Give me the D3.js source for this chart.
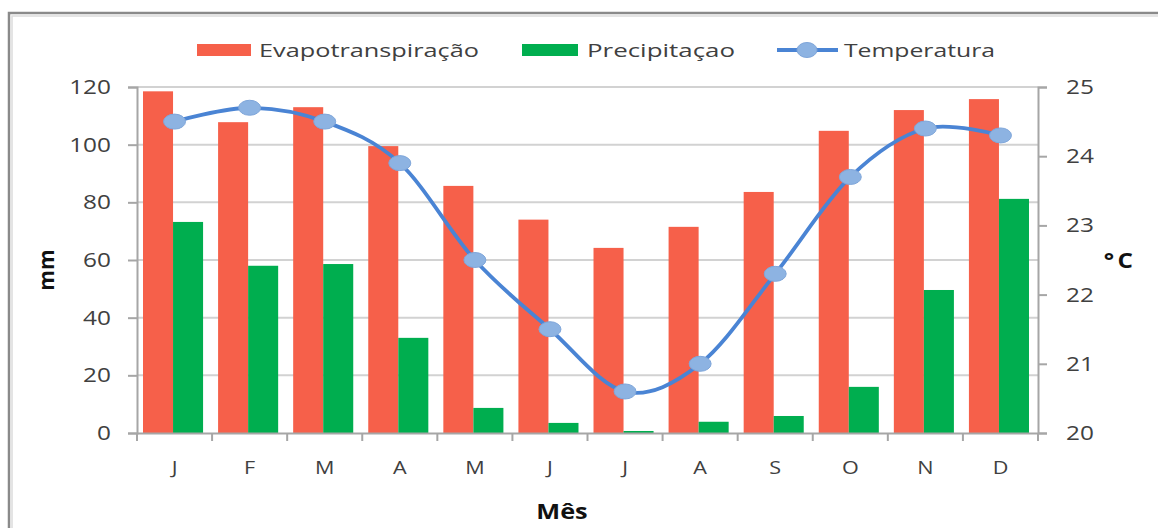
<!DOCTYPE html>
<html><head><meta charset="utf-8">
<script src="https://cdn.jsdelivr.net/npm/d3@7"></script>
<style>body{margin:0;background:#fff;}svg{display:block;}</style>
</head><body>
<svg id="chart" width="1167" height="528"></svg>
<script>
const months = ["J","F","M","A","M","J","J","A","S","O","N","D"];
const evapo = [118.5,107.8,113,99.5,85.7,74,64.2,71.5,83.6,104.8,112,115.8];
const precip = [73.2,58,58.6,33,8.7,3.5,0.7,3.9,5.9,16,49.6,81.2];
const temp = [24.5,24.7,24.5,23.9,22.5,21.5,20.6,21.0,22.3,23.7,24.4,24.3];
const mmTicks = [0,20,40,60,80,100,120];
const cTicks = [20,21,22,23,24,25];
const seriesNames = ["Evapotranspiração","Precipitaçao","Temperatura"];

const svg = d3.select("#chart");
const FONT = "'Open Sans', sans-serif";
const L = 137, R = 1038, T = 87, B = 433;
const red = "#F6604A", green = "#00AE4F", lineC = "#4A84D4", mark = "#8DB3E2";

// frame
svg.append("path").attr("d","M9,528 L9,13 L1158,13").attr("fill","none")
  .attr("stroke","#8a8a8a").attr("stroke-width",2.5);
svg.append("path").attr("d","M12,528 L12,16 L1158,16").attr("fill","none")
  .attr("stroke","#dcdcdc").attr("stroke-width",1.5);

const idx = d3.range(months.length);
const x = d3.scaleBand().domain(idx).range([L,R]).padding(0);
const xs = d3.scaleBand().domain(["e","p"]).range([0,x.bandwidth()]).paddingInner(0).paddingOuter(0.25).align(0.4);
const y = d3.scaleLinear().domain([0,120]).range([B,T]);
const y2 = d3.scaleLinear().domain([20,25]).range([B,T]);

// gridlines
svg.append("g").selectAll("line").data(mmTicks.filter(d=>d>0)).join("line")
  .attr("x1",L).attr("x2",R).attr("y1",d=>y(d)).attr("y2",d=>y(d))
  .attr("stroke","#d2d2d2").attr("stroke-width",2);

// bars
const g = svg.append("g");
g.selectAll("rect.e").data(idx).join("rect").attr("class","e")
  .attr("x",i=>x(i)+xs("e")).attr("width",xs.bandwidth())
  .attr("y",i=>y(evapo[i])).attr("height",i=>B-y(evapo[i])).attr("fill",red);
g.selectAll("rect.p").data(idx).join("rect").attr("class","p")
  .attr("x",i=>x(i)+xs("p")).attr("width",xs.bandwidth())
  .attr("y",i=>y(precip[i])).attr("height",i=>B-y(precip[i])).attr("fill",green);

// axes
const axL = svg.append("g").attr("transform",`translate(${L},0)`)
  .call(d3.axisLeft(y).tickValues(mmTicks).tickSize(9).tickFormat(""));
const axR = svg.append("g").attr("transform",`translate(${R},0)`)
  .call(d3.axisRight(y2).tickValues(cTicks).tickSize(9).tickFormat(""));
const axB = svg.append("g").attr("transform",`translate(0,${B})`)
  .call(d3.axisBottom(x).tickValues([]).tickSizeOuter(0).tickFormat(""));
[axL,axR,axB].forEach(a=>{a.selectAll("path,line").attr("stroke","#a6a6a6").attr("stroke-width",2);});
// category separators ticks
svg.append("g").selectAll("line").data(d3.range(months.length+1)).join("line")
  .attr("x1",i=>L+i*x.step()).attr("x2",i=>L+i*x.step()).attr("y1",B).attr("y2",B+8)
  .attr("stroke","#a6a6a6").attr("stroke-width",2);

function stext(parent, str, tx, ty, size, anchor, sx, weight, fill){
  return parent.append("text").attr("transform",`translate(${tx},${ty}) scale(${sx},1)`)
    .attr("text-anchor",anchor).attr("font-family",FONT).attr("font-size",size)
    .attr("font-weight",weight||"normal").attr("fill",fill||"#404040").text(str);
}
mmTicks.forEach(v=>stext(svg, String(v), 111, y(v)+7, 20, "end", 1.22));
cTicks.forEach(v=>stext(svg, String(v), 1066, y2(v)+7, 20, "start", 1.22));
idx.forEach(i=>stext(svg, months[i], x(i)+x.bandwidth()/2, 474, 18, "middle", 1.2));

// axis titles
svg.append("text").attr("transform","translate(54,270) rotate(-90)").attr("text-anchor","middle")
  .attr("font-family",FONT).attr("font-size",21).attr("font-weight","bold").attr("fill","#111").text("mm");
stext(svg,"°C",1120,268,22,"middle",1.1,"bold","#111").attr("letter-spacing",3);
stext(svg,"Mês",562,519,22,"middle",1.15,"bold","#111");

// temperature line
const line = d3.line().x((d,i)=>x(i)+x.bandwidth()/2).y(d=>y2(d)).curve(d3.curveCardinal.tension(0));
svg.append("path").datum(temp).attr("d",line).attr("fill","none").attr("stroke",lineC).attr("stroke-width",3.8);
svg.append("g").selectAll("ellipse").data(temp).join("ellipse")
  .attr("cx",(d,i)=>x(i)+x.bandwidth()/2).attr("cy",d=>y2(d)).attr("rx",11).attr("ry",7.5)
  .attr("fill",mark).attr("stroke","#7fa6da").attr("stroke-width",1);

// legend
const lg = svg.append("g");
lg.append("rect").attr("x",197).attr("y",44).attr("width",54).attr("height",12).attr("fill",red);
lg.append("text").attr("x",259).attr("y",57).attr("font-family",FONT).attr("font-size",18).attr("fill","#404040")
  .attr("textLength",220).attr("lengthAdjust","spacingAndGlyphs").text(seriesNames[0]);
lg.append("rect").attr("x",522).attr("y",44).attr("width",56).attr("height",12).attr("fill",green);
lg.append("text").attr("x",587).attr("y",57).attr("font-family",FONT).attr("font-size",18).attr("fill","#404040")
  .attr("textLength",148).attr("lengthAdjust","spacingAndGlyphs").text(seriesNames[1]);
lg.append("line").attr("x1",777).attr("x2",838).attr("y1",50).attr("y2",50).attr("stroke",lineC).attr("stroke-width",3.8);
lg.append("ellipse").attr("cx",807).attr("cy",50).attr("rx",10).attr("ry",7.5).attr("fill",mark).attr("stroke","#7fa6da");
lg.append("text").attr("x",844).attr("y",57).attr("font-family",FONT).attr("font-size",18).attr("fill","#404040")
  .attr("textLength",151).attr("lengthAdjust","spacingAndGlyphs").text(seriesNames[2]);
</script>
</body></html>
